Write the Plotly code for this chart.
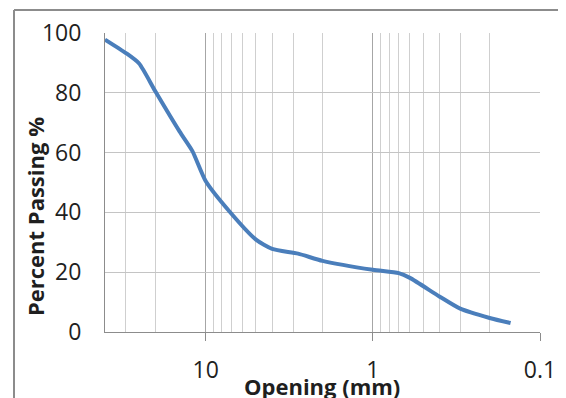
import math
import plotly.graph_objects as go

# Data (sieve opening in mm, percent passing)
opening_mm = [40, 30, 25, 20, 14.3, 12, 10, 7.2, 5, 4, 2.8, 2, 1, 0.7, 0.6, 0.4, 0.3, 0.2, 0.15]
percent_passing = [97.8, 93.3, 89.8, 80.5, 67, 60.5, 50.5, 40.3, 30.9, 27.8, 26.2, 23.8, 20.8, 19.7, 18.1, 11.9, 7.8, 4.7, 3]

x_major_ticks = [10, 1, 0.1]
x_major_labels = ["10", "1", "0.1"]
x_minor_grid = [30, 20, 9, 8, 7, 6, 5, 4, 3, 2, 0.9, 0.8, 0.7, 0.6, 0.5, 0.4, 0.3, 0.2]
y_ticks = [0, 20, 40, 60, 80, 100]
x_title = "Opening (mm)"
y_title = "Percent Passing %"

# The page body adds an 8px offset, so figure coords = picture coords - 8
OFF = 8
W, H = 566, 398
L, T = 105 - OFF, 33 - OFF
pw, ph = 435, 299
R, B = W - L - pw, H - T - ph

def px(xp):
    return (xp - OFF - L) / pw

def py(yp):
    return (H - B - (yp - OFF)) / ph

font_family = "Open Sans"
text_color = "#1f1f1f"

fig = go.Figure()
fig.add_trace(go.Scatter(
    x=opening_mm, y=percent_passing, mode="lines",
    line=dict(color="#4a7ebb", width=4, shape="spline", smoothing=0.6),
    showlegend=False, hoverinfo="skip",
))

fig.update_xaxes(
    type="log", range=[math.log10(40), -1], autorange=False,
    automargin=False,
    tickvals=x_major_ticks, ticktext=x_major_labels,
    ticks="outside", ticklen=8, tickcolor="#8c8c8c", tickwidth=1,
    ticklabelstandoff=9,
    showgrid=True, gridcolor="#a6a6a6", gridwidth=1,
    minor=dict(tickvals=x_minor_grid, showgrid=True, gridcolor="#cfcfcf", gridwidth=1, ticks=""),
    showline=True, linecolor="#8c8c8c", linewidth=1,
    tickfont=dict(family=font_family, size=23, color=text_color),
    zeroline=False,
)
fig.update_yaxes(
    range=[0, 100], tickvals=y_ticks, automargin=False,
    ticks="", ticklabelstandoff=18,
    showgrid=True, gridcolor="#c4c4c4", gridwidth=1,
    showline=True, linecolor="#8c8c8c", linewidth=1,
    zeroline=False,
    tickfont=dict(family=font_family, size=23, color=text_color),
)

# Axis titles placed as annotations for exact positioning
fig.add_annotation(text="<b>" + x_title + "</b>", xref="paper", yref="paper",
                   x=px(322), y=py(386), xanchor="center", yanchor="middle",
                   showarrow=False, font=dict(family=font_family, size=22, color=text_color))
fig.add_annotation(text="<b>" + y_title + "</b>", xref="paper", yref="paper",
                   x=px(35), y=py(217), xanchor="center", yanchor="middle", textangle=-90,
                   showarrow=False, font=dict(family=font_family, size=22, color=text_color))

# Outer chart border (left and top edges visible)
fig.add_shape(type="line", xref="paper", yref="paper",
              x0=px(14), y0=py(10), x1=px(580), y1=py(10),
              line=dict(color="#8c8c8c", width=2))
fig.add_shape(type="line", xref="paper", yref="paper",
              x0=px(14), y0=py(10), x1=px(14), y1=py(420),
              line=dict(color="#8c8c8c", width=2))

fig.update_layout(
    width=W, height=H,
    margin=dict(l=L, r=R, t=T, b=B),
    paper_bgcolor="white", plot_bgcolor="white",
    font=dict(family=font_family, color=text_color),
)

fig.write_html("out.html")
